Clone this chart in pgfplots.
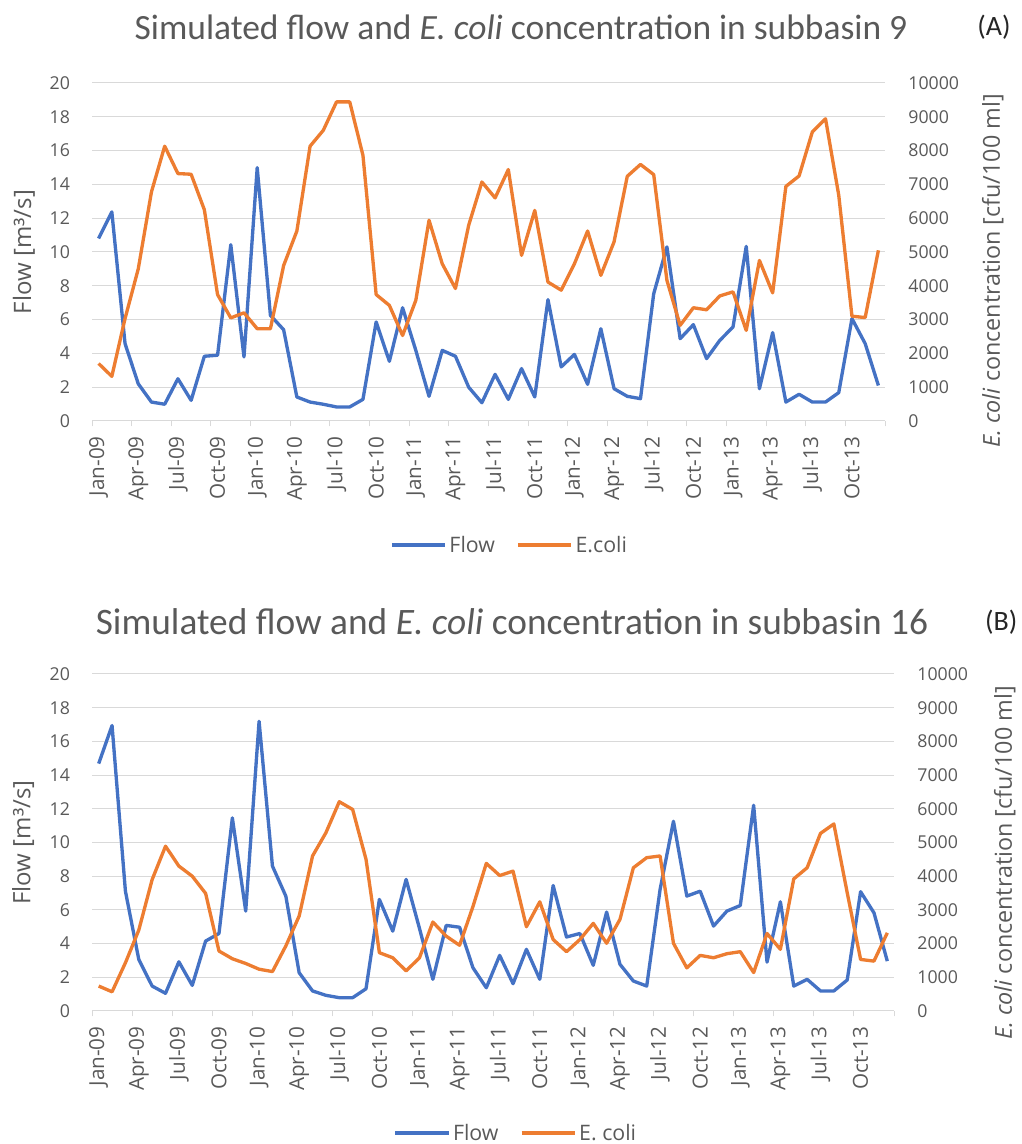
\documentclass[border=0pt]{standalone}
\usepackage{pgfplots}
\pgfplotsset{compat=1.18}
\usepackage{pgfplotstable}
\usepackage{fontspec}
\setmainfont{Open Sans}
\newfontfamily\titlefont{Carlito}
\definecolor{flowc}{HTML}{4472C4}
\definecolor{ecoc}{HTML}{ED7D31}
\definecolor{txt}{HTML}{595959}
\definecolor{gridc}{HTML}{D9D9D9}

\pgfplotstableread{
i fA eA fB eB
0 10.8 1700 14.68 740
1 12.37 1320 16.94 570
2 4.58 3030 7.11 1430
3 2.2 4500 3.06 2400
4 1.12 6780 1.48 3900
5 0.99 8130 1.05 4890
6 2.5 7320 2.92 4300
7 1.22 7300 1.52 4000
8 3.83 6250 4.15 3490
9 3.89 3740 4.6 1780
10 10.43 3050 11.46 1550
11 3.79 3200 5.93 1410
12 14.99 2730 17.19 1240
13 6.25 2730 8.6 1170
14 5.4 4600 6.82 1930
15 1.42 5620 2.27 2820
16 1.12 8130 1.19 4600
17 0.99 8600 0.93 5290
18 0.83 9440 0.79 6210
19 0.83 9440 0.79 5980
20 1.28 7860 1.32 4500
21 5.86 3740 6.62 1730
22 3.53 3420 4.74 1580
23 6.7 2530 7.81 1190
24 4.18 3570 4.9 1580
25 1.46 5940 1.88 2640
26 4.18 4650 5.08 2220
27 3.83 3920 4.97 1950
28 2.0 5790 2.57 3100
29 1.08 7070 1.38 4380
30 2.76 6600 3.3 4020
31 1.28 7440 1.62 4150
32 3.1 4900 3.66 2500
33 1.42 6230 1.88 3240
34 7.18 4110 7.45 2120
35 3.2 3870 4.39 1760
36 3.94 4650 4.6 2120
37 2.17 5620 2.71 2600
38 5.46 4310 5.87 2010
39 1.91 5300 2.77 2720
40 1.46 7240 1.78 4250
41 1.32 7590 1.48 4550
42 7.53 7290 7.21 4600
43 10.3 4160 11.26 2010
44 4.87 2830 6.82 1280
45 5.7 3350 7.11 1650
46 3.69 3290 5.04 1580
47 4.77 3700 5.93 1700
48 5.56 3820 6.26 1760
49 10.33 2680 12.21 1140
50 1.91 4750 2.9 2300
51 5.23 3790 6.48 1830
52 1.12 6940 1.48 3920
53 1.58 7250 1.88 4250
54 1.12 8550 1.19 5270
55 1.12 8940 1.19 5550
56 1.68 6680 1.84 3510
57 6.06 3100 7.08 1530
58 4.58 3060 5.83 1480
59 2.1 5050 2.96 2320
}\data

\pgfplotsset{
  common/.style={
    scale only axis,
    xmin=-0.5, xmax=59.5,
    major tick length=0pt,
    /pgf/number format/assume math mode=true,
    /pgf/number format/1000 sep={},
    scaled y ticks=false,
    y axis line style={draw=none},
    ytick style={draw=none},
    yticklabel style={font=\fontsize{13.3}{15}\selectfont, text=txt},
  },
  leftax/.style={common,
    ymin=0, ymax=20, ytick={0,2,...,20},
    ymajorgrids, grid style={gridc, line width=0.75pt},
    axis x line*=bottom, axis y line*=left,
    x axis line style={gridc, line width=0.75pt},
    xtick={0,3,...,57},
    xticklabels={Jan-09,Apr-09,Jul-09,Oct-09,Jan-10,Apr-10,Jul-10,Oct-10,Jan-11,Apr-11,Jul-11,Oct-11,Jan-12,Apr-12,Jul-12,Oct-12,Jan-13,Apr-13,Jul-13,Oct-13},
    minor xtick={-0.5,2.5,...,59.5},
    tick align=outside,
    minor tick length=4pt,
    major x tick style={draw=none},
    minor x tick style={gridc, line width=0.75pt},
    xticklabel style={rotate=90, anchor=east, font=\fontsize{15.5}{17}\selectfont, text=txt},
    xticklabel shift=8pt,
    yticklabel shift=13pt,
    ylabel style={font=\fontsize{18}{20}\selectfont, text=txt, at={(axis description cs:-0.0858,0.5)}, anchor=center},
  },
  rightax/.style={common,
    axis x line=none, axis y line*=right,
    ymin=0, ymax=10000, ytick={0,1000,...,10000},
    yticklabel shift=14pt,
    yticklabel style={anchor=west},
    legend style={draw=none, fill=none, font=\fontsize{16}{18}\selectfont, text=txt,
      legend columns=2, /tikz/every even column/.append style={column sep=14pt}},
    legend image code/.code={\draw[#1, line cap=butt] (0pt,0pt) -- (40pt,0pt);},
  },
  flowline/.style={flowc, line width=2.5pt, line join=round, mark=none},
  ecoline/.style={ecoc, line width=2.5pt, line join=round, mark=none},
}

\begin{document}
\begin{tikzpicture}
\useasboundingbox (0,0) rectangle (765.75pt,858pt);

% ---------- Panel A ----------
\node[font=\titlefont\fontsize{26.6}{30}\selectfont, text=txt] at (390.75pt,837.75pt)
  {Simulated flow and \textit{E. coli} concentration in subbasin 9};
\node[font=\titlefont\fontsize{21}{24}\selectfont, text={black!85}] at (745.5pt,837.75pt) {(A)};

\begin{axis}[leftax, at={(69pt,542.25pt)}, anchor=south west,
  width=594.75pt, height=253.5pt,
  ylabel={Flow [m³/s]}]
\addplot[flowline] table[x=i, y=fA] {\data};
\end{axis}
\begin{axis}[rightax, at={(69pt,542.25pt)}, anchor=south west,
  width=594.75pt, height=253.5pt,
  ylabel={\textit{E. coli} concentration [cfu/100 ml]},
  ylabel style={font=\fontsize{17.5}{19}\selectfont, text=txt, at={(axis description cs:1.136,0.444)}, anchor=center, rotate=0},
  legend style={at={(axis description cs:0.527,-0.367)}, anchor=center}]
\addlegendimage{flowline}
\addlegendentry{Flow}
\addplot[ecoline] table[x=i, y=eA] {\data};
\addlegendentry{E.coli}
\end{axis}

% ---------- Panel B ----------
\node[font=\titlefont\fontsize{28}{31}\selectfont, text=txt] at (384pt,391.5pt)
  {Simulated flow and \textit{E. coli} concentration in subbasin 16};
\node[font=\titlefont\fontsize{21}{24}\selectfont, text={black!85}] at (751pt,391.5pt) {(B)};

\begin{axis}[leftax, at={(69pt,99.75pt)}, anchor=south west,
  width=601.5pt, height=252.75pt,
  ylabel={Flow [m³/s]}]
\addplot[flowline] table[x=i, y=fB] {\data};
\end{axis}
\begin{axis}[rightax, at={(69pt,99.75pt)}, anchor=south west,
  width=601.5pt, height=252.75pt,
  ylabel={\textit{E. coli} concentration [cfu/100 ml]},
  ylabel style={font=\fontsize{17.5}{19}\selectfont, text=txt, at={(axis description cs:1.138,0.439)}, anchor=center, rotate=0},
  legend style={at={(axis description cs:0.529,-0.362)}, anchor=center}]
\addlegendimage{flowline}
\addlegendentry{Flow}
\addplot[ecoline] table[x=i, y=eB] {\data};
\addlegendentry{E. coli}
\end{axis}
\end{tikzpicture}
\end{document}
